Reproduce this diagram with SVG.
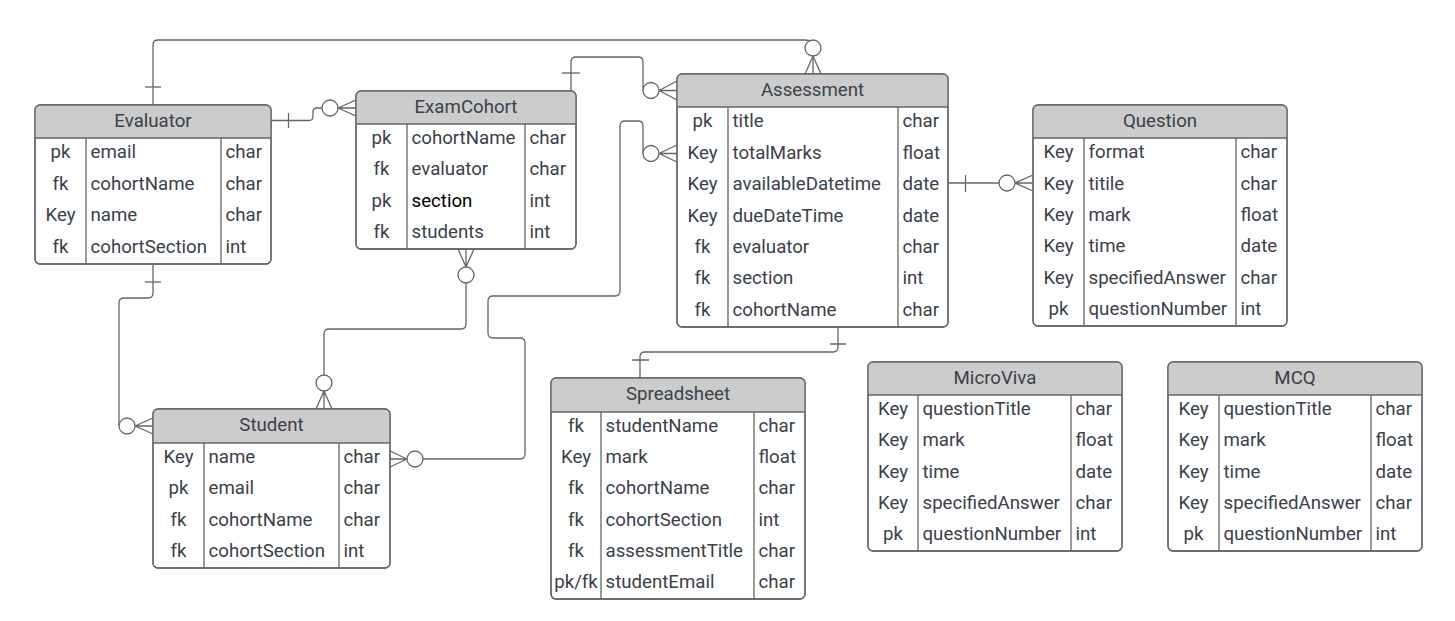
<svg xmlns="http://www.w3.org/2000/svg" width="1455" height="621" viewBox="0 0 1455 621">
<style>
  .bg{fill:#ffffff}
  .box{fill:#ffffff;stroke:#62666d;stroke-width:1.3}
  .out{fill:none;stroke:#62666d;stroke-width:1.3}
  .hdr{fill:#cccccc;stroke:none}
  .ln{stroke:#62666d;stroke-width:1.3;fill:none}
  .t{font-family:Roboto,"Liberation Sans",Arial,sans-serif;font-size:18.67px;fill:#3a414a}
  .c{text-anchor:middle}
  .blk{fill:#000000}
  .con{fill:none;stroke:#62666d;stroke-width:1.3}
  .dot{fill:#ffffff;stroke:#62666d;stroke-width:1.3}
</style>
<rect class="bg" x="0" y="0" width="1455" height="621"/>

<g id="connectors">
  <!-- Evaluator top to Assessment top -->
  <path class="con" d="M153,105 V45 Q153,40 158,40 H805 Q813,40 813,48 V74"/>
  <path class="con" d="M145,87 H161"/>
  <path class="con" d="M813,56 L805,74 M813,56 L821,74"/>
  <circle class="dot" cx="813" cy="48" r="8"/>
  <!-- Evaluator right to ExamCohort left -->
  <path class="con" d="M271,120.5 H309 Q313,120.5 313,116.5 V112 Q313,108 317,108 H322"/>
  <path class="con" d="M288.5,113 V128"/>
  <path class="con" d="M338,108 L356,100 M338,108 L356,108 M338,108 L356,116"/>
  <circle class="dot" cx="330" cy="108" r="8"/>
  <!-- ExamCohort top to Assessment header -->
  <path class="con" d="M571,91 V62 Q571,57 576,57 H638 Q643,57 643,62 V90.5"/>
  <path class="con" d="M562,73 H580"/>
  <path class="con" d="M659,90.5 L677,81 M659,90.5 L677,90.5 M659,90.5 L677,100"/>
  <circle class="dot" cx="651" cy="90.5" r="8"/>
  <!-- Student right to Assessment totalMarks -->
  <path class="con" d="M423,459 H520 Q525,459 525,454 V343 Q525,338 520,338 H493 Q488,338 488,333 V301 Q488,296 493,296 H615 Q620,296 620,291 V126 Q620,121 625,121 H638 Q643,121 643,126 V153.5"/>
  <path class="con" d="M390,451 L407,459 M390,459 L407,459 M390,467 L407,459"/>
  <circle class="dot" cx="415" cy="459" r="8"/>
  <path class="con" d="M659,153.5 L677,145 M659,153.5 L677,153.5 M659,153.5 L677,162"/>
  <circle class="dot" cx="651" cy="153.5" r="8"/>
  <!-- ExamCohort bottom to Student top -->
  <path class="con" d="M458,249 L466,267 M466,249 L466,267 M474,249 L466,267"/>
  <circle class="dot" cx="466" cy="275" r="8"/>
  <path class="con" d="M466,283 V324 Q466,329 461,329 H329 Q324,329 324,334 V375"/>
  <circle class="dot" cx="324" cy="383" r="8"/>
  <path class="con" d="M324,391 L316,409 M324,391 L324,409 M324,391 L332,409"/>
  <!-- Evaluator bottom to Student left -->
  <path class="con" d="M153,264 V293 Q153,298 148,298 H124 Q119,298 119,303 V426"/>
  <path class="con" d="M145,282 H161"/>
  <path class="con" d="M135,426 L153,418 M135,426 L153,426 M135,426 L153,434"/>
  <circle class="dot" cx="127" cy="426" r="8"/>
  <!-- Assessment bottom to Spreadsheet top -->
  <path class="con" d="M838,327 V347 Q838,352 833,352 H645 Q640,352 640,357 V378"/>
  <path class="con" d="M830,344 H846 M632,360 H649"/>
  <!-- Assessment right to Question left -->
  <path class="con" d="M948,183 H999"/>
  <path class="con" d="M965.5,175 V192"/>
  <path class="con" d="M1015,183 L1033,175 M1015,183 L1033,183 M1015,183 L1033,191"/>
  <circle class="dot" cx="1007" cy="183" r="8"/>
</g>

<g id="evaluator">
  <rect class="box" x="35" y="105" width="236" height="159" rx="5"/>
  <path class="hdr" d="M35,138 V110 Q35,105 40,105 H266 Q271,105 271,110 V138 Z"/>
  <rect class="out" x="35" y="105" width="236" height="159" rx="5"/>
  <path class="ln" d="M35,138 H271 M86,138 V264 M221,138 V264"/>
  <text class="t c" x="153" y="126.5">Evaluator</text>
  <text class="t c" x="60.5" y="158.3">pk</text><text class="t" x="90.5" y="158.3">email</text><text class="t" x="225.5" y="158.3">char</text>
  <text class="t c" x="60.5" y="189.8">fk</text><text class="t" x="90.5" y="189.8">cohortName</text><text class="t" x="225.5" y="189.8">char</text>
  <text class="t c" x="60.5" y="221.3">Key</text><text class="t" x="90.5" y="221.3">name</text><text class="t" x="225.5" y="221.3">char</text>
  <text class="t c" x="60.5" y="252.8">fk</text><text class="t" x="90.5" y="252.8">cohortSection</text><text class="t" x="225.5" y="252.8">int</text>
</g>

<g id="examcohort">
  <rect class="box" x="356" y="91" width="220" height="158" rx="5"/>
  <path class="hdr" d="M356,124 V96 Q356,91 361,91 H571 Q576,91 576,96 V124 Z"/>
  <rect class="out" x="356" y="91" width="220" height="158" rx="5"/>
  <path class="ln" d="M356,124 H576 M407,124 V249 M525,124 V249"/>
  <text class="t c" x="466" y="112.5">ExamCohort</text>
  <text class="t c" x="381.5" y="144.1">pk</text><text class="t" x="411.5" y="144.1">cohortName</text><text class="t" x="529.5" y="144.1">char</text>
  <text class="t c" x="381.5" y="175.4">fk</text><text class="t" x="411.5" y="175.4">evaluator</text><text class="t" x="529.5" y="175.4">char</text>
  <text class="t c" x="381.5" y="206.6">pk</text><text class="t blk" x="411.5" y="206.6">section</text><text class="t" x="529.5" y="206.6">int</text>
  <text class="t c" x="381.5" y="237.9">fk</text><text class="t" x="411.5" y="237.9">students</text><text class="t" x="529.5" y="237.9">int</text>
</g>

<g id="assessment">
  <rect class="box" x="677" y="74" width="271" height="253" rx="5"/>
  <path class="hdr" d="M677,107 V79 Q677,74 682,74 H943 Q948,74 948,79 V107 Z"/>
  <rect class="out" x="677" y="74" width="271" height="253" rx="5"/>
  <path class="ln" d="M677,107 H948 M728,107 V327 M898,107 V327"/>
  <text class="t c" x="812.5" y="95.5">Assessment</text>
  <text class="t c" x="702.5" y="127.2">pk</text><text class="t" x="732.5" y="127.2">title</text><text class="t" x="902.5" y="127.2">char</text>
  <text class="t c" x="702.5" y="158.6">Key</text><text class="t" x="732.5" y="158.6">totalMarks</text><text class="t" x="902.5" y="158.6">float</text>
  <text class="t c" x="702.5" y="190.1">Key</text><text class="t" x="732.5" y="190.1">availableDatetime</text><text class="t" x="902.5" y="190.1">date</text>
  <text class="t c" x="702.5" y="221.5">Key</text><text class="t" x="732.5" y="221.5">dueDateTime</text><text class="t" x="902.5" y="221.5">date</text>
  <text class="t c" x="702.5" y="252.9">fk</text><text class="t" x="732.5" y="252.9">evaluator</text><text class="t" x="902.5" y="252.9">char</text>
  <text class="t c" x="702.5" y="284.4">fk</text><text class="t" x="732.5" y="284.4">section</text><text class="t" x="902.5" y="284.4">int</text>
  <text class="t c" x="702.5" y="315.8">fk</text><text class="t" x="732.5" y="315.8">cohortName</text><text class="t" x="902.5" y="315.8">char</text>
</g>

<g id="question">
  <rect class="box" x="1033" y="105" width="254" height="221" rx="5"/>
  <path class="hdr" d="M1033,138 V110 Q1033,105 1038,105 H1282 Q1287,105 1287,110 V138 Z"/>
  <rect class="out" x="1033" y="105" width="254" height="221" rx="5"/>
  <path class="ln" d="M1033,138 H1287 M1084,138 V326 M1236,138 V326"/>
  <text class="t c" x="1160" y="126.5">Question</text>
  <text class="t c" x="1058.5" y="158.2">Key</text><text class="t" x="1088.5" y="158.2">format</text><text class="t" x="1240.5" y="158.2">char</text>
  <text class="t c" x="1058.5" y="189.5">Key</text><text class="t" x="1088.5" y="189.5">titile</text><text class="t" x="1240.5" y="189.5">char</text>
  <text class="t c" x="1058.5" y="220.8">Key</text><text class="t" x="1088.5" y="220.8">mark</text><text class="t" x="1240.5" y="220.8">float</text>
  <text class="t c" x="1058.5" y="252.2">Key</text><text class="t" x="1088.5" y="252.2">time</text><text class="t" x="1240.5" y="252.2">date</text>
  <text class="t c" x="1058.5" y="283.5">Key</text><text class="t" x="1088.5" y="283.5">specifiedAnswer</text><text class="t" x="1240.5" y="283.5">char</text>
  <text class="t c" x="1058.5" y="314.8">pk</text><text class="t" x="1088.5" y="314.8">questionNumber</text><text class="t" x="1240.5" y="314.8">int</text>
</g>

<g id="student">
  <rect class="box" x="153" y="409" width="237" height="159" rx="5"/>
  <path class="hdr" d="M153,443 V414 Q153,409 158,409 H385 Q390,409 390,414 V443 Z"/>
  <rect class="out" x="153" y="409" width="237" height="159" rx="5"/>
  <path class="ln" d="M153,443 H390 M204,443 V568 M339,443 V568"/>
  <text class="t c" x="271.5" y="431">Student</text>
  <text class="t c" x="178.5" y="463.1">Key</text><text class="t" x="208.5" y="463.1">name</text><text class="t" x="343.5" y="463.1">char</text>
  <text class="t c" x="178.5" y="494.4">pk</text><text class="t" x="208.5" y="494.4">email</text><text class="t" x="343.5" y="494.4">char</text>
  <text class="t c" x="178.5" y="525.6">fk</text><text class="t" x="208.5" y="525.6">cohortName</text><text class="t" x="343.5" y="525.6">char</text>
  <text class="t c" x="178.5" y="556.9">fk</text><text class="t" x="208.5" y="556.9">cohortSection</text><text class="t" x="343.5" y="556.9">int</text>
</g>

<g id="spreadsheet">
  <rect class="box" x="551" y="378" width="254" height="221" rx="5"/>
  <path class="hdr" d="M551,412 V383 Q551,378 556,378 H800 Q805,378 805,383 V412 Z"/>
  <rect class="out" x="551" y="378" width="254" height="221" rx="5"/>
  <path class="ln" d="M551,412 H805 M601,412 V599 M754,412 V599"/>
  <text class="t c" x="678" y="400">Spreadsheet</text>
  <text class="t c" x="576" y="432.1">fk</text><text class="t" x="605.5" y="432.1">studentName</text><text class="t" x="758.5" y="432.1">char</text>
  <text class="t c" x="576" y="463.3">Key</text><text class="t" x="605.5" y="463.3">mark</text><text class="t" x="758.5" y="463.3">float</text>
  <text class="t c" x="576" y="494.4">fk</text><text class="t" x="605.5" y="494.4">cohortName</text><text class="t" x="758.5" y="494.4">char</text>
  <text class="t c" x="576" y="525.6">fk</text><text class="t" x="605.5" y="525.6">cohortSection</text><text class="t" x="758.5" y="525.6">int</text>
  <text class="t c" x="576" y="556.8">fk</text><text class="t" x="605.5" y="556.8">assessmentTitle</text><text class="t" x="758.5" y="556.8">char</text>
  <text class="t c" x="576" y="587.9">pk/fk</text><text class="t" x="605.5" y="587.9">studentEmail</text><text class="t" x="758.5" y="587.9">char</text>
</g>

<g id="microviva">
  <rect class="box" x="868" y="362" width="254" height="189" rx="5"/>
  <path class="hdr" d="M868,395 V367 Q868,362 873,362 H1117 Q1122,362 1122,367 V395 Z"/>
  <rect class="out" x="868" y="362" width="254" height="189" rx="5"/>
  <path class="ln" d="M868,395 H1122 M918,395 V551 M1071,395 V551"/>
  <text class="t c" x="995" y="383.5">MicroViva</text>
  <text class="t c" x="893" y="415.1">Key</text><text class="t" x="922.5" y="415.1">questionTitle</text><text class="t" x="1075.5" y="415.1">char</text>
  <text class="t c" x="893" y="446.3">Key</text><text class="t" x="922.5" y="446.3">mark</text><text class="t" x="1075.5" y="446.3">float</text>
  <text class="t c" x="893" y="477.5">Key</text><text class="t" x="922.5" y="477.5">time</text><text class="t" x="1075.5" y="477.5">date</text>
  <text class="t c" x="893" y="508.7">Key</text><text class="t" x="922.5" y="508.7">specifiedAnswer</text><text class="t" x="1075.5" y="508.7">char</text>
  <text class="t c" x="893" y="539.9">pk</text><text class="t" x="922.5" y="539.9">questionNumber</text><text class="t" x="1075.5" y="539.9">int</text>
</g>

<g id="mcq">
  <rect class="box" x="1168" y="362" width="254" height="189" rx="5"/>
  <path class="hdr" d="M1168,395 V367 Q1168,362 1173,362 H1417 Q1422,362 1422,367 V395 Z"/>
  <rect class="out" x="1168" y="362" width="254" height="189" rx="5"/>
  <path class="ln" d="M1168,395 H1422 M1219,395 V551 M1371,395 V551"/>
  <text class="t c" x="1295" y="383.5">MCQ</text>
  <text class="t c" x="1193.5" y="415.1">Key</text><text class="t" x="1223.5" y="415.1">questionTitle</text><text class="t" x="1375.5" y="415.1">char</text>
  <text class="t c" x="1193.5" y="446.3">Key</text><text class="t" x="1223.5" y="446.3">mark</text><text class="t" x="1375.5" y="446.3">float</text>
  <text class="t c" x="1193.5" y="477.5">Key</text><text class="t" x="1223.5" y="477.5">time</text><text class="t" x="1375.5" y="477.5">date</text>
  <text class="t c" x="1193.5" y="508.7">Key</text><text class="t" x="1223.5" y="508.7">specifiedAnswer</text><text class="t" x="1375.5" y="508.7">char</text>
  <text class="t c" x="1193.5" y="539.9">pk</text><text class="t" x="1223.5" y="539.9">questionNumber</text><text class="t" x="1375.5" y="539.9">int</text>
</g>
</svg>
